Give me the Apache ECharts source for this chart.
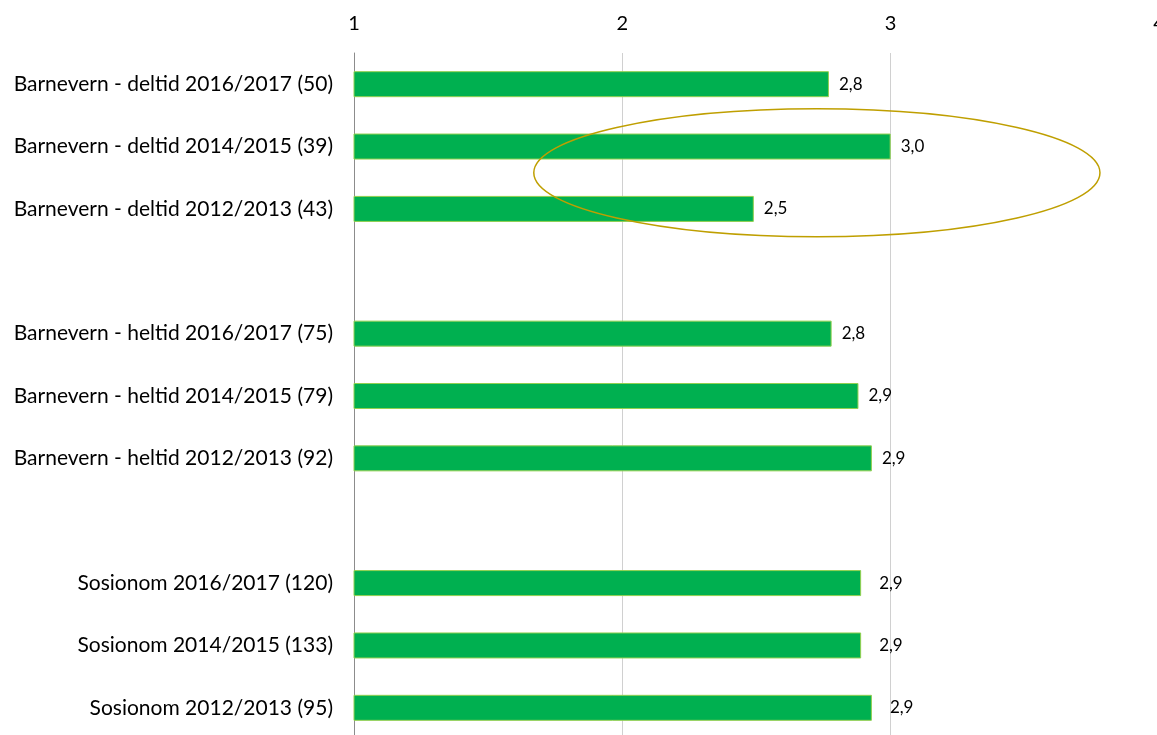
<!DOCTYPE html>
<html lang="no">
<head>
<meta charset="UTF-8">
<script src="https://cdn.jsdelivr.net/npm/echarts@6/dist/echarts.min.js"></script>
<title>Barnevern / Sosionom</title>
<style>
    html, body { margin: 0; padding: 0; background: #fff; }
    #main { width: 1157px; height: 735px; }
</style>
</head>
<body>
<div id="main"></div>
<script>
    // kategorier ovenfra og ned, tomme rader gir mellomrom mellom gruppene
    let categories = [
        'Barnevern - deltid 2016/2017 (50)',
        'Barnevern - deltid 2014/2015 (39)',
        'Barnevern - deltid 2012/2013 (43)',
        '',
        'Barnevern - heltid 2016/2017 (75)',
        'Barnevern - heltid 2014/2015 (79)',
        'Barnevern - heltid 2012/2013 (92)',
        ' ',
        'Sosionom 2016/2017 (120)',
        'Sosionom 2014/2015 (133)',
        'Sosionom 2012/2013 (95)'
    ];
    let values = [2.77, 3.00, 2.49, null, 2.78, 2.88, 2.93, null, 2.89, 2.89, 2.93];
    let xTicks = [1, 2, 3, 4];

    let font = 'Lato, "Open Sans", sans-serif';
    let myChart = echarts.init(document.getElementById('main'));

    // sosionom-etikettene står litt lenger ut i originalen
    let barData = values.map((v, i) => ({
        value: v,
        label: { distance: categories[i].startsWith('Sosionom') ? 18 : 10 }
    }));

    let option = {
        animation: false,
        grid: {
            left: 354, right: -2, top: 53, bottom: -4,
            outerBoundsMode: 'none'
        },
        xAxis: {
            type: 'value',
            position: 'top',
            min: xTicks[0],
            max: xTicks[xTicks.length - 1],
            interval: 1,
            axisLine: { show: false },
            axisTick: { show: false },
            axisLabel: {
                color: '#000', fontSize: 20, fontFamily: font, margin: 19,
                formatter: v => String(v)
            },
            splitLine: { lineStyle: { color: '#d0d0d0', width: 1 } }
        },
        yAxis: {
            type: 'category',
            inverse: true,
            data: categories,
            axisLine: { show: true, lineStyle: { color: '#8c8c8c', width: 1 } },
            axisTick: { show: false },
            axisLabel: { color: '#000', fontSize: 21, fontFamily: font, margin: 21 }
        },
        series: [{
            type: 'bar',
            data: barData,
            barWidth: 26,
            itemStyle: { color: '#00b050', borderColor: '#92d050', borderWidth: 1 },
            label: {
                show: true,
                position: 'right',
                color: '#000',
                fontSize: 17,
                fontFamily: font,
                formatter: p => p.value == null ? '' : p.value.toFixed(1).replace('.', ',')
            }
        }]
    };
    myChart.setOption(option);

    // ring rundt deltid 2014/2015 og 2012/2013
    let left = myChart.convertToPixel({ xAxisIndex: 0 }, 1.67);
    let right = myChart.convertToPixel({ xAxisIndex: 0 }, 3.78);
    let y1 = myChart.convertToPixel({ yAxisIndex: 0 }, categories[1]);
    let y2 = myChart.convertToPixel({ yAxisIndex: 0 }, categories[2]);
    let cy = y1 + (y2 - y1) * 0.42;
    myChart.setOption({
        graphic: [{
            type: 'ellipse',
            z: 100,
            shape: { cx: (left + right) / 2, cy: cy, rx: (right - left) / 2, ry: 64 },
            style: { fill: 'none', stroke: '#bf9f00', lineWidth: 1.5 }
        }]
    });
</script>
</body>
</html>
